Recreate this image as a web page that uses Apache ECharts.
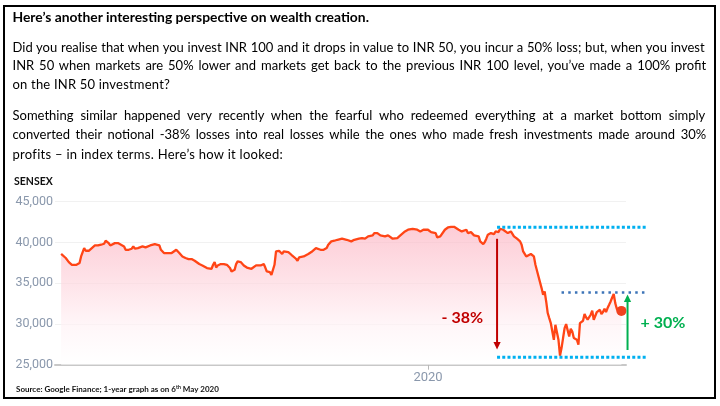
<!DOCTYPE html>
<html><head><meta charset="utf-8">
<script src="https://cdn.jsdelivr.net/npm/echarts@6/dist/echarts.min.js"></script>
<style>
html,body{margin:0;padding:0;background:#fff;}
#wrap{position:relative;width:720px;height:406px;overflow:hidden;}
#chart{position:absolute;left:0;top:0;width:720px;height:406px;}
#frame{position:absolute;left:3px;top:5px;width:713px;height:394px;box-sizing:border-box;border:2px solid #000;pointer-events:none;}
.ln{position:absolute;left:12.5px;white-space:nowrap;font-family:Lato,"Noto Sans",sans-serif;color:#000;line-height:20px;height:20px;}
</style></head>
<body><div id="wrap"><div id="chart"></div><div id="txt"></div><div id="frame"></div></div>
<script>
// ---------- DATA ----------
const dates = [
'2019-05-07','2019-05-10','2019-05-12','2019-05-14','2019-05-15','2019-05-17','2019-05-18','2019-05-19','2019-05-20','2019-05-22','2019-05-23','2019-05-24','2019-05-25','2019-05-26','2019-05-27','2019-05-29','2019-05-30','2019-05-31',
'2019-06-01','2019-06-02','2019-06-04','2019-06-05','2019-06-06','2019-06-07','2019-06-08','2019-06-09','2019-06-11','2019-06-13','2019-06-14','2019-06-17','2019-06-18','2019-06-20','2019-06-22','2019-06-23','2019-06-24','2019-06-26','2019-06-27','2019-06-29',
'2019-07-01','2019-07-02','2019-07-04','2019-07-05','2019-07-07','2019-07-08','2019-07-10','2019-07-11','2019-07-13','2019-07-14','2019-07-16','2019-07-18','2019-07-19','2019-07-21','2019-07-22','2019-07-23','2019-07-25','2019-07-27','2019-07-29','2019-07-31',
'2019-08-02','2019-08-03','2019-08-05','2019-08-07','2019-08-08','2019-08-10','2019-08-11','2019-08-13','2019-08-14','2019-08-15','2019-08-16','2019-08-17','2019-08-19','2019-08-21','2019-08-23','2019-08-25','2019-08-26','2019-08-28','2019-08-29','2019-08-30',
'2019-09-01','2019-09-03','2019-09-04','2019-09-05','2019-09-06','2019-09-08','2019-09-09','2019-09-11','2019-09-12','2019-09-14','2019-09-16','2019-09-17','2019-09-18','2019-09-20','2019-09-21','2019-09-23','2019-09-24','2019-09-25','2019-09-26','2019-09-28','2019-09-29','2019-09-30',
'2019-10-02','2019-10-04','2019-10-05','2019-10-07','2019-10-08','2019-10-09','2019-10-10','2019-10-12','2019-10-13','2019-10-15','2019-10-17','2019-10-18','2019-10-20','2019-10-21','2019-10-23','2019-10-25','2019-10-27','2019-10-28','2019-10-30',
'2019-11-01','2019-11-03','2019-11-06','2019-11-07','2019-11-09','2019-11-10','2019-11-12','2019-11-14','2019-11-15','2019-11-17','2019-11-19','2019-11-20','2019-11-21','2019-11-23','2019-11-24','2019-11-26','2019-11-27','2019-11-29',
'2019-12-01','2019-12-02','2019-12-04','2019-12-06','2019-12-07','2019-12-09','2019-12-10','2019-12-12','2019-12-14','2019-12-15','2019-12-17','2019-12-19','2019-12-20','2019-12-22','2019-12-23','2019-12-25','2019-12-27','2019-12-29','2019-12-30',
'2020-01-01','2020-01-03','2020-01-04','2020-01-06','2020-01-07','2020-01-09','2020-01-10','2020-01-12','2020-01-14','2020-01-16','2020-01-18','2020-01-19','2020-01-21','2020-01-23','2020-01-24','2020-01-26','2020-01-27','2020-01-29','2020-01-31',
'2020-02-01','2020-02-03','2020-02-04','2020-02-06','2020-02-07','2020-02-08','2020-02-09','2020-02-11','2020-02-13','2020-02-14','2020-02-16','2020-02-17','2020-02-19','2020-02-20','2020-02-22','2020-02-24','2020-02-25','2020-02-26','2020-02-28',
'2020-03-01','2020-03-02','2020-03-03','2020-03-05','2020-03-06','2020-03-08','2020-03-09','2020-03-10','2020-03-11','2020-03-13','2020-03-14','2020-03-15','2020-03-16','2020-03-17','2020-03-18','2020-03-19','2020-03-20','2020-03-21','2020-03-22','2020-03-23','2020-03-24','2020-03-26','2020-03-27','2020-03-28','2020-03-29','2020-03-30','2020-03-31',
'2020-04-01','2020-04-02','2020-04-03','2020-04-04','2020-04-05','2020-04-07','2020-04-08','2020-04-09','2020-04-10','2020-04-11','2020-04-12','2020-04-13','2020-04-14','2020-04-15','2020-04-16','2020-04-17','2020-04-18','2020-04-20','2020-04-21','2020-04-22','2020-04-23','2020-04-24','2020-04-25','2020-04-26','2020-04-27','2020-04-28','2020-04-29','2020-04-30',
'2020-05-01','2020-05-02','2020-05-03','2020-05-04','2020-05-06'
];
const sensex = [
38600,38090,37590,37260,37100,37260,37100,37470,38280,39310,38980,39100,38980,38900,39310,39630,39720,39630,
39800,39720,39840,40210,40130,39920,39630,39720,39920,39920,39800,39510,39100,39100,39230,39510,39230,39310,39430,39510,
39390,39310,39630,39800,39800,39920,39630,39100,38700,38580,38700,38700,38820,39100,38980,38700,38280,38090,37960,37960,
37750,37670,37350,37180,37060,36860,36920,36770,37260,37590,36920,37180,37350,37350,37260,36860,36440,36640,37350,37670,
37590,37180,37350,36920,36770,36770,36920,37180,37260,37180,37350,36920,36440,36360,36030,37260,38900,39100,38980,38580,38900,38980,
38820,38490,38280,38000,37750,38160,37990,38280,38410,38580,38820,38990,39310,39100,39100,39100,39310,39720,40130,
40210,40330,40460,40620,40330,40210,40130,40330,40330,40460,40540,40620,40460,40740,40870,40870,41150,41150,
40870,40740,40740,40870,40740,40460,40330,40540,40870,40950,41350,41560,41680,41680,41600,41560,41350,41560,41430,
41560,41270,41430,41150,40620,40740,40950,41560,41840,41920,41920,41920,41560,41350,41150,41560,41150,41270,40870,
41020,40740,40130,39800,40050,40460,40950,41150,41020,41350,41270,41680,41560,41350,41150,41350,41150,40740,40460,
40130,39720,38900,38280,38410,38580,38490,38280,37260,35830,35710,34400,33580,33990,32760,31340,30720,30110,29080,28060,29900,28060,26100,27040,28270,29490,29980,
29900,28470,29410,29080,28270,28060,27450,30110,29900,30390,31210,30800,30520,30720,31130,31620,30520,31460,31540,31740,31210,31460,31870,31460,31950,32350,32760,33250,
33670,32560,31870,31460,31600
];
const yMin = 25000, yMax = 45000, yStep = 5000;
const xStart = '2019-05-03', xEnd = '2020-05-09';
const yearTicks = ['2020-01-01'];
const seriesName = 'SENSEX';
// annotation levels
const peakLevel = 41850, bottomLevel = 25900, recoveryLevel = 33860;
const lossArrow = {date: '2020-02-15', from: 40450, to: 26850, label: '- 38%', labelLevel: 30800};
const gainArrow = {date: '2020-05-10', from: 26800, to: 33600, label: '+ 30%', labelLevel: 30150};
const guideStart = '2020-02-15', recoveryStart = '2020-03-28', guideEnd = '2020-05-22';
const sourceText = ['Source: Google Finance; 1-year graph as on 6', 'th', ' May 2020'];

const headingText = 'Here’s another interesting perspective on wealth creation.';
const bodyLines = [
  'Did you realise that when you invest INR 100 and it drops in value to INR 50, you incur a 50% loss; but, when you invest',
  'INR 50 when markets are 50% lower and markets get back to the previous INR 100 level, you’ve made a 100% profit',
  'on the INR 50 investment?',
  'Something similar happened very recently when the fearful who redeemed everything at a market bottom simply',
  'converted their notional -38% losses into real losses while the ones who made fresh investments made around 30%',
  'profits – in index terms. Here’s how it looked:'
];

// ---------- TEXT LAYOUT ----------
const lineY = [46.5, 65, 84, 114.7, 133.7, 153.7];
const lineTarget = [694.5, 694.5, 157.5, 694.5, 694.5, 270.5];
const justified = [true, true, false, true, true, false];
const cv = document.createElement('canvas').getContext('2d');
function measure(t, bold, size) { cv.font = (bold ? 'bold ' : '') + size + 'px Lato'; return cv.measureText(t).width; }
const bodySize = 100 * 684 / measure(bodyLines[0], false, 100);
const headSize = 100 * 357.5 / measure(headingText, true, 100);
const txt = document.getElementById('txt');
function addLine(t, y, bold, size, justify, target) {
  const d = document.createElement('div');
  d.className = 'ln';
  d.style.top = (y - 10) + 'px';
  d.style.fontSize = size + 'px';
  if (bold) d.style.fontWeight = 'bold';
  const nat = measure(t, bold, size);
  if (justify) {
    const spaces = (t.match(/ /g) || []).length;
    d.style.wordSpacing = ((target - nat) / spaces) + 'px';
  } else if (target) {
    d.style.letterSpacing = ((target - nat) / t.length) + 'px';
  }
  d.textContent = t;
  txt.appendChild(d);
}
addLine(headingText, 17, true, headSize, false, 0);
bodyLines.forEach((t, i) => addLine(t, lineY[i], false, bodySize, justified[i], lineTarget[i]));

// ---------- CHART ----------
function ts(s) { const [y, m, d] = s.split('-').map(Number); return new Date(y, m - 1, d).getTime(); }
const chart = echarts.init(document.getElementById('chart'), null, {renderer: 'canvas'});
const lineData = dates.map((d, i) => [ts(d), sensex[i]]);
const last = lineData[lineData.length - 1];
chart.setOption({
  animation: false,
  backgroundColor: 'transparent',
  grid: {left: 55, right: 94, top: 201.7, bottom: 41.3, containLabel: false},
  xAxis: {
    type: 'value', min: ts(xStart), max: ts(xEnd),
    axisLine: {show: true, lineStyle: {color: '#c8c8c8', width: 2}},
    axisTick: {show: true, customValues: yearTicks.map(ts), length: 5, lineStyle: {color: '#b8b8b8', width: 1}},
    axisLabel: {customValues: yearTicks.map(ts), formatter: v => String(new Date(v).getFullYear()),
      color: '#8a98ac', fontSize: 13, fontFamily: 'Roboto', margin: 7},
    splitLine: {show: false}
  },
  yAxis: {
    type: 'value', min: yMin, max: yMax, interval: yStep,
    axisLine: {show: false}, axisTick: {show: false},
    axisLabel: {formatter: v => v.toLocaleString('en-US'), color: '#8a98ac', fontSize: 12.5, fontFamily: 'Roboto', margin: 2},
    splitLine: {lineStyle: {color: '#f1f1f1', width: 1}}
  },
  series: [{
    name: seriesName, type: 'line', data: lineData, showSymbol: false, smooth: false,
    lineStyle: {color: '#ff4516', width: 2.3},
    areaStyle: {color: new echarts.graphic.LinearGradient(0, 0, 0, 1, [
      {offset: 0, color: '#fbb6c4'}, {offset: 0.4, color: '#fdd6de'},
      {offset: 0.72, color: '#fff2f5'}, {offset: 1, color: '#ffffff'}])},
    z: 3
  }, {
    type: 'scatter', data: [last], symbolSize: 10, itemStyle: {color: '#f0421f', opacity: 1}, z: 4
  }]
});

function P(d, v) { return chart.convertToPixel({gridIndex: 0}, [ts(d), v]); }
const gs = P(guideStart, peakLevel), ge = P(guideEnd, peakLevel);
const bs = P(guideStart, bottomLevel), be = P(guideEnd, bottomLevel);
const rs = P(recoveryStart, recoveryLevel), re = P(guideEnd, recoveryLevel);
const la = P(lossArrow.date, lossArrow.from), lb = P(lossArrow.date, lossArrow.to), ll = P(lossArrow.date, lossArrow.labelLevel);
const ga = P(gainArrow.date, gainArrow.from), gb = P(gainArrow.date, gainArrow.to), gl = P(gainArrow.date, gainArrow.labelLevel);
const cyan = '#00b0f0', red = '#c00000', green = '#00b050';
chart.setOption({
  graphic: [
    {type: 'line', shape: {x1: gs[0], y1: gs[1], x2: ge[0], y2: ge[1]}, style: {stroke: cyan, lineWidth: 3, lineDash: [3, 2.2]}, z: 10},
    {type: 'line', shape: {x1: bs[0], y1: bs[1], x2: be[0], y2: be[1]}, style: {stroke: cyan, lineWidth: 3, lineDash: [3, 2.2]}, z: 10},
    {type: 'line', shape: {x1: rs[0], y1: rs[1], x2: re[0], y2: re[1]}, style: {stroke: '#3d74b8', lineWidth: 2.5, lineDash: [2.5, 4.2]}, z: 10},
    {type: 'line', shape: {x1: la[0], y1: la[1], x2: lb[0], y2: lb[1] - 6}, style: {stroke: red, lineWidth: 2}, z: 11},
    {type: 'polygon', shape: {points: [[lb[0] - 3.6, lb[1] - 7.5], [lb[0] + 3.6, lb[1] - 7.5], [lb[0], lb[1]]]}, style: {fill: red}, z: 11},
    {type: 'line', shape: {x1: ga[0], y1: ga[1], x2: gb[0], y2: gb[1] + 6}, style: {stroke: green, lineWidth: 2}, z: 11},
    {type: 'polygon', shape: {points: [[gb[0] - 3.6, gb[1] + 7.5], [gb[0] + 3.6, gb[1] + 7.5], [gb[0], gb[1]]]}, style: {fill: green}, z: 11},
    {type: 'text', x: ll[0] - 14, y: ll[1], style: {text: lossArrow.label, fill: red, font: 'bold 16px Lato', align: 'right', verticalAlign: 'middle'}, z: 12},
    {type: 'text', x: gl[0] + 13, y: gl[1], style: {text: gainArrow.label, fill: green, font: 'bold 16px Lato', align: 'left', verticalAlign: 'middle'}, z: 12},
    {type: 'text', x: 14, y: 182, style: {text: seriesName, fill: '#111', font: 'bold 10.5px Lato', align: 'left', verticalAlign: 'middle'}, z: 12},
    {type: 'text', x: 16, y: 389.5, style: {
      text: sourceText[0] + '{sup|' + sourceText[1] + '}' + sourceText[2],
      fill: '#111', font: 'bold 8px Lato', align: 'left', verticalAlign: 'middle',
      rich: {sup: {fontSize: 5.2, fontWeight: 'bold', fontFamily: 'Lato', fill: '#111', verticalAlign: 'top', padding: [0, 0, 4, 0]}}
    }, z: 12}
  ]
});
</script>
</body></html>
